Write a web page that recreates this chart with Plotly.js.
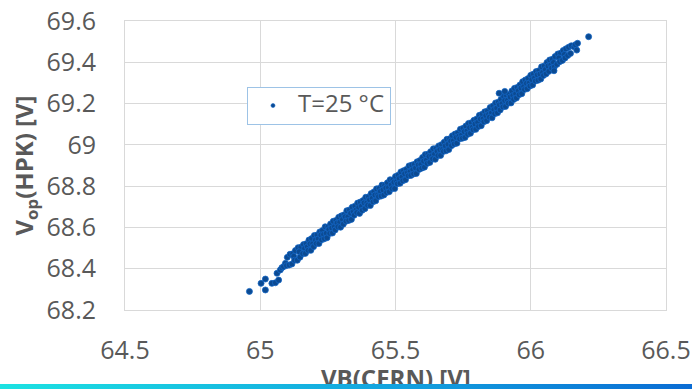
<!DOCTYPE html>
<html>
<head>
<meta charset="utf-8">
<script src="https://cdn.plot.ly/plotly-3.0.1.min.js"></script>
<style>
  html, body { margin: 0; padding: 0; background: #ffffff; overflow: hidden; }
  #chart { position: absolute; left: 0; top: 0; width: 692px; height: 389px; }
  #bar { position: absolute; left: 0; top: 384px; width: 692px; height: 5px;
         background: linear-gradient(to right, #1ce2e2, #14abe0 50%, #0a6cd4); }
</style>
</head>
<body>
<div id="chart"></div>
<div id="bar"></div>
<script>
// Series label and axis titles
const seriesName = 'T=25 °C';
const xTitle = 'VB(CERN) [V]';
const yTitle = 'V<sub>op</sub>(HPK) [V]';

// Axis ticks
const xTicks = [64.5, 65, 65.5, 66, 66.5];
const yTicks = [68.2, 68.4, 68.6, 68.8, 69, 69.2, 69.4, 69.6];

// Sparse points at the low end of the cloud
const lowTailVB  = [64.960,65.003,65.019,65.019,65.043,65.056,65.068,65.062,65.074,65.080,65.086,65.093,65.097];
const lowTailVop = [68.290,68.329,68.350,68.297,68.329,68.332,68.345,68.378,68.394,68.405,68.410,68.426,68.415];

// Upper edge of the dense band
const upperVB = [65.10,65.11,65.12,65.13,65.14,65.15,65.16,65.17,65.18,65.19,
  65.20,65.21,65.22,65.23,65.24,65.25,65.26,65.27,65.28,65.29,
  65.30,65.31,65.32,65.33,65.34,65.35,65.36,65.37,65.38,65.39,
  65.40,65.41,65.42,65.43,65.44,65.45,65.46,65.47,65.48,65.49,
  65.50,65.51,65.52,65.53,65.54,65.55,65.56,65.57,65.58,65.59,
  65.60,65.61,65.62,65.63,65.64,65.65,65.66,65.67,65.68,65.69,
  65.70,65.71,65.72,65.73,65.74,65.75,65.76,65.77,65.78,65.79,
  65.80,65.81,65.82,65.83,65.84,65.85,65.86,65.87,65.88,65.89,
  65.90,65.91,65.92,65.93,65.94,65.95,65.96,65.97,65.98,65.99,
  66.00,66.01,66.02,66.03,66.04,66.05,66.06,66.07,66.08,66.09,
  66.10,66.11,66.12,66.13,66.14,66.15];
const upperVop = [68.455,68.470,68.472,68.488,68.502,68.504,68.517,68.521,68.539,68.546,
  68.561,68.563,68.578,68.585,68.603,68.602,68.617,68.630,68.634,68.649,
  68.656,68.661,68.681,68.685,68.698,68.703,68.718,68.723,68.730,68.746,
  68.748,68.764,68.772,68.787,68.789,68.805,68.804,68.816,68.831,68.830,
  68.847,68.853,68.869,68.875,68.881,68.898,68.902,68.906,68.918,68.924,
  68.939,68.953,68.955,68.967,68.981,68.982,68.995,69.001,69.013,69.027,
  69.029,69.044,69.052,69.058,69.076,69.080,69.091,69.104,69.107,69.119,
  69.125,69.143,69.148,69.160,69.164,69.181,69.188,69.203,69.207,69.220,
  69.235,69.239,69.244,69.261,69.274,69.278,69.290,69.306,69.314,69.321,
  69.337,69.343,69.355,69.359,69.378,69.382,69.399,69.411,69.415,69.428,
  69.440,69.444,69.457,69.465,69.473,69.480];

// Middle of the dense band
const midVB = [65.124,65.144,65.164,65.174,65.184,65.194,65.204,65.214,65.224,65.234,
  65.244,65.254,65.264,65.274,65.284,65.294,65.304,65.314,65.324,65.334,
  65.344,65.354,65.364,65.374,65.384,65.394,65.404,65.414,65.424,65.434,
  65.444,65.454,65.464,65.474,65.484,65.494,65.504,65.514,65.524,65.534,
  65.544,65.554,65.564,65.574,65.584,65.594,65.604,65.614,65.624,65.634,
  65.644,65.654,65.664,65.674,65.684,65.694,65.704,65.714,65.724,65.734,
  65.744,65.754,65.764,65.774,65.784,65.794,65.804,65.814,65.824,65.834,
  65.844,65.854,65.864,65.874,65.884,65.894,65.904,65.914,65.924,65.934,
  65.944,65.954,65.964,65.974,65.984,65.994,66.004,66.014,66.024,66.034,
  66.044,66.054,66.064,66.074,66.084,66.104,66.124];
const midVop = [68.460,68.482,68.498,68.506,68.521,68.521,68.539,68.544,68.563,68.566,
  68.572,68.590,68.597,68.603,68.621,68.625,68.638,68.652,68.651,68.669,
  68.676,68.684,68.696,68.703,68.719,68.719,68.734,68.741,68.757,68.758,
  68.775,68.782,68.791,68.793,68.806,68.819,68.822,68.837,68.844,68.860,
  68.865,68.870,68.880,68.888,68.903,68.905,68.921,68.926,68.944,68.947,
  68.954,68.969,68.977,68.978,68.995,69.003,69.018,69.020,69.036,69.042,
  69.047,69.064,69.067,69.083,69.085,69.101,69.109,69.125,69.126,69.142,
  69.148,69.154,69.171,69.178,69.194,69.200,69.215,69.216,69.232,69.239,
  69.247,69.263,69.275,69.282,69.298,69.299,69.316,69.324,69.339,69.343,
  69.351,69.365,69.382,69.387,69.399,69.421,69.438];

// Lower edge of the dense band
const lowerVB = [65.107,65.117,65.127,65.137,65.147,65.157,65.167,65.177,65.187,65.197,
  65.207,65.217,65.227,65.237,65.247,65.257,65.267,65.277,65.287,65.297,
  65.307,65.317,65.327,65.337,65.347,65.357,65.367,65.377,65.387,65.397,
  65.407,65.417,65.427,65.437,65.447,65.457,65.467,65.477,65.487,65.497,
  65.507,65.517,65.527,65.537,65.547,65.557,65.567,65.577,65.587,65.597,
  65.607,65.617,65.627,65.637,65.647,65.657,65.667,65.677,65.687,65.697,
  65.707,65.717,65.727,65.737,65.747,65.757,65.767,65.777,65.787,65.797,
  65.807,65.817,65.827,65.837,65.847,65.857,65.867,65.877,65.887,65.897,
  65.907,65.917,65.927,65.937,65.947,65.957,65.967,65.977,65.987,65.997,
  66.007,66.017,66.027,66.037,66.047,66.057,66.067,66.077,66.087,66.097,
  66.107,66.117,66.127,66.137,66.147];
const lowerVop = [68.418,68.423,68.441,68.441,68.456,68.473,68.474,68.489,68.489,68.507,
  68.522,68.522,68.540,68.545,68.550,68.571,68.573,68.588,68.603,68.601,
  68.616,68.630,68.634,68.639,68.659,68.672,68.668,68.683,68.691,68.707,
  68.706,68.724,68.729,68.749,68.752,68.757,68.769,68.773,68.788,68.788,
  68.811,68.814,68.826,68.831,68.850,68.852,68.859,68.861,68.881,68.887,
  68.892,68.910,68.915,68.932,68.930,68.948,68.949,68.968,68.971,68.977,
  68.996,69.004,69.008,69.029,69.032,69.036,69.051,69.056,69.073,69.075,
  69.089,69.093,69.112,69.117,69.134,69.131,69.151,69.155,69.169,69.184,
  69.186,69.202,69.203,69.220,69.227,69.243,69.248,69.268,69.272,69.285,
  69.290,69.309,69.313,69.319,69.336,69.344,69.356,69.372,69.377,69.390,
  69.403,69.409,69.421,69.433,69.443];

// Sparse points at the high end and stray points
const topTailVB  = [65.883,65.904,66.086,66.160,66.165,66.170,66.173,66.214];
const topTailVop = [69.250,69.259,69.359,69.475,69.485,69.459,69.492,69.524];

const vb  = [].concat(lowTailVB, upperVB, midVB, lowerVB, topTailVB);
const vop = [].concat(lowTailVop, upperVop, midVop, lowerVop, topTailVop);

const FONT = '"Open Sans", "Noto Sans", sans-serif';
const TXT = '#595959';
const GRID = '#d9d9d9';
const MFILL = '#0b4a92';
const MLINE = '#1466c4';

// Data trace (legend entry drawn by a companion trace with the small legend dot)
const trace = {
  type: 'scatter',
  mode: 'markers',
  name: seriesName,
  x: vb,
  y: vop,
  showlegend: false,
  legendgroup: 'g',
  marker: { size: 6, color: MFILL, line: { color: MLINE, width: 0.8 } },
  hoverinfo: 'x+y'
};
const legendTrace = {
  type: 'scatter',
  mode: 'markers',
  name: '<span style="font-size:24px">' + seriesName + '</span>',
  x: [null],
  y: [null],
  legendgroup: 'g',
  showlegend: true,
  marker: { size: 4, color: MFILL, line: { color: MLINE, width: 0.6 } },
  hoverinfo: 'skip'
};

const layout = {
  width: 692,
  height: 389,
  margin: { l: 125, r: 26, t: 21, b: 79, pad: 0 },
  paper_bgcolor: '#ffffff',
  plot_bgcolor: '#ffffff',
  font: { family: FONT, color: TXT, size: 25 },
  showlegend: true,
  legend: {
    x: 0.2255, y: 0.7716, xanchor: 'left', yanchor: 'top',
    bgcolor: '#ffffff', bordercolor: '#9dc3e6', borderwidth: 1,
    font: { family: FONT, size: 17, color: TXT },
    itemwidth: 40
  },
  annotations: [{
    text: '<b>' + xTitle + '</b>',
    xref: 'paper', yref: 'paper', x: 0.5, y: -0.169,
    xanchor: 'center', yanchor: 'top', showarrow: false,
    font: { family: FONT, size: 24, color: TXT }
  }],
  xaxis: {
    range: [64.5, 66.5],
    tickmode: 'array', tickvals: xTicks, ticktext: xTicks.map(String),
    showgrid: true, gridcolor: GRID, gridwidth: 1,
    showline: true, mirror: true, linecolor: GRID, linewidth: 1,
    zeroline: false,
    ticks: 'outside', ticklen: 18, tickcolor: 'rgba(0,0,0,0)',
    tickfont: { family: FONT, size: 25, color: TXT },
    automargin: false
  },
  yaxis: {
    range: [68.2, 69.6],
    tickmode: 'array', tickvals: yTicks, ticktext: yTicks.map(String),
    showgrid: true, gridcolor: GRID, gridwidth: 1,
    showline: true, mirror: true, linecolor: GRID, linewidth: 1,
    zeroline: false,
    ticks: 'outside', ticklen: 23, tickcolor: 'rgba(0,0,0,0)',
    tickfont: { family: FONT, size: 25, color: TXT },
    title: { text: '<b>' + yTitle + '</b>', font: { family: FONT, size: 24, color: TXT }, standoff: 6 },
    automargin: false
  }
};

Plotly.newPlot('chart', [trace, legendTrace], layout, { staticPlot: true, displayModeBar: false });
</script>
</body>
</html>
